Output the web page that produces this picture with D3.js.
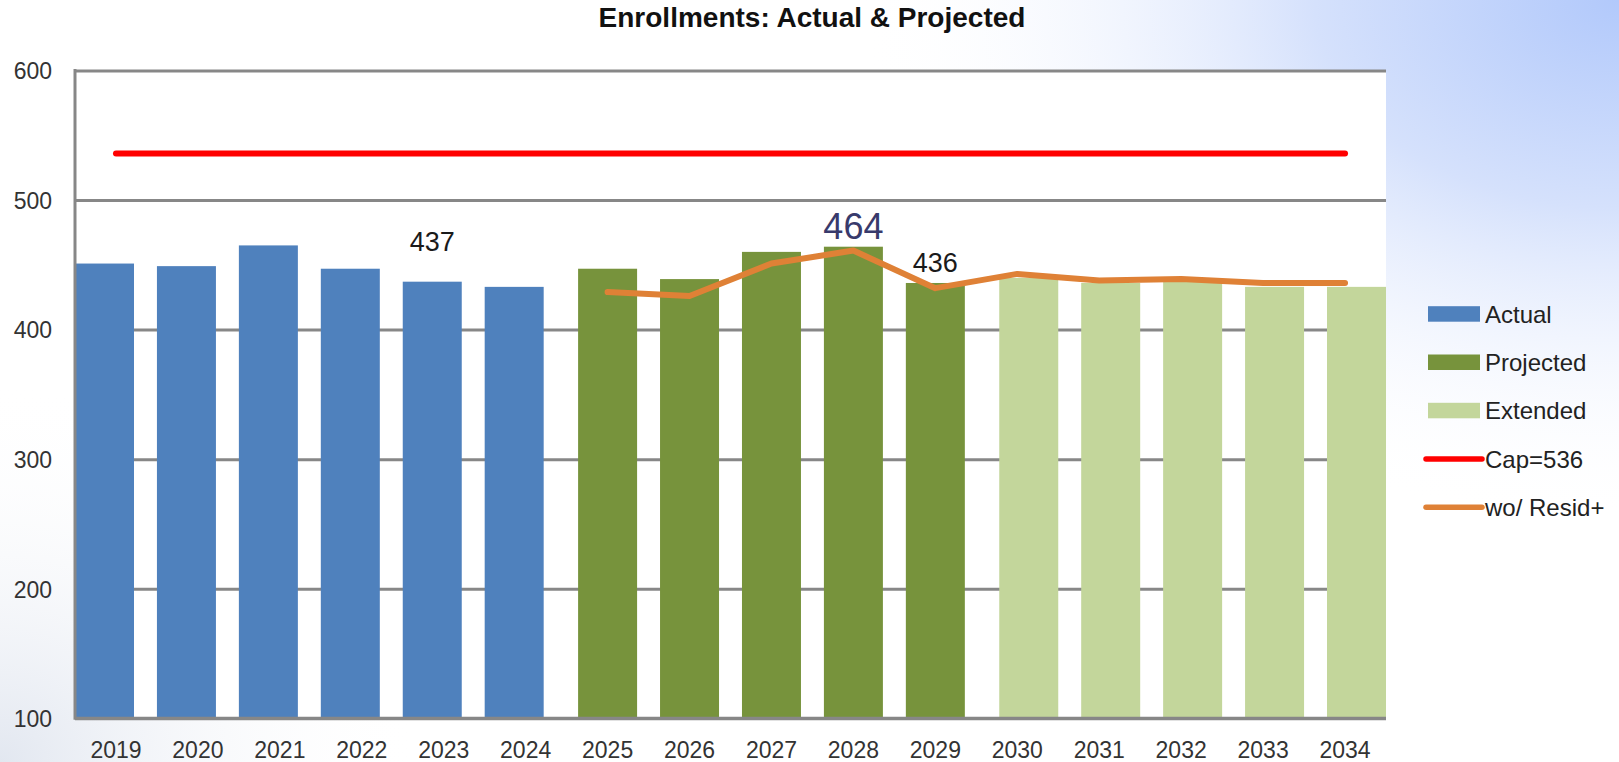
<!DOCTYPE html>
<html lang="en">
<head>
<meta charset="utf-8">
<title>Enrollments: Actual &amp; Projected</title>
<script src="https://cdn.jsdelivr.net/npm/d3@7/dist/d3.min.js"></script>
<style>
  html, body { margin: 0; padding: 0; background: #fff; }
  svg { display: block; }
  text { font-family: "Liberation Sans", Arial, sans-serif; }
</style>
</head>
<body>
<div id="chart"></div>
<script>
// data
var years = ["2019","2020","2021","2022","2023","2024","2025","2026","2027","2028","2029","2030","2031","2032","2033","2034"];
var actual    = [451, 449, 465, 447, 437, 433];          // 2019-2024
var projected = [447, 439, 460, 464, 436];               // 2025-2029
var extended  = [440, 436, 437, 433, 433];               // 2030-2034
var capValue  = 536;
var woResid   = [429, 426, 451, 461, 432, 443, 438, 439, 436, 436]; // 2025-2034
var yTicks    = [100, 200, 300, 400, 500, 600];
var labelled  = [{year: "2023", value: 437, big: false},
                 {year: "2028", value: 464, big: true},
                 {year: "2029", value: 436, big: false}];

var width = 1619, height = 762;
var plot = {left: 75, right: 1386, top: 70.5, bottom: 718.3};

var svg = d3.select("#chart").append("svg")
    .attr("width", width)
    .attr("height", height);

// background: white with a blue glow top right, faint grey bottom left
var defs = svg.append("defs");
var gTR = defs.append("radialGradient")
    .attr("id", "glowTR")
    .attr("gradientUnits", "userSpaceOnUse")
    .attr("cx", 0).attr("cy", 0).attr("r", 1)
    .attr("gradientTransform", "translate(1619,0) scale(760,520)");
gTR.append("stop").attr("offset", 0).attr("stop-color", "#b2c9fb");
gTR.append("stop").attr("offset", 0.4).attr("stop-color", "#d5e1fc");
gTR.append("stop").attr("offset", 1).attr("stop-color", "#ffffff").attr("stop-opacity", 0);

var gBL = defs.append("radialGradient")
    .attr("id", "glowBL")
    .attr("gradientUnits", "userSpaceOnUse")
    .attr("cx", 0).attr("cy", 0).attr("r", 1)
    .attr("gradientTransform", "translate(0,762) scale(420,380)");
gBL.append("stop").attr("offset", 0).attr("stop-color", "#e2e7f0");
gBL.append("stop").attr("offset", 1).attr("stop-color", "#ffffff").attr("stop-opacity", 0);

svg.append("rect").attr("width", width).attr("height", height).attr("fill", "#fff");
svg.append("rect").attr("width", width).attr("height", height).attr("fill", "url(#glowBL)");
svg.append("rect").attr("width", width).attr("height", height).attr("fill", "url(#glowTR)");

// plot area
svg.append("rect")
    .attr("x", plot.left).attr("y", plot.top)
    .attr("width", plot.right - plot.left)
    .attr("height", plot.bottom - plot.top)
    .attr("fill", "#fff");

var x = d3.scaleBand().domain(years).range([plot.left, plot.right]).padding(0);
var y = d3.scaleLinear().domain([100, 600]).range([plot.bottom, plot.top]);

var barW = x.step() * 0.72;
var shift = x.step() * 0.14;   // clustered series offset

// gridlines + y axis labels
var yAxis = svg.append("g")
    .attr("transform", "translate(" + plot.left + ",0)")
    .call(d3.axisLeft(y).tickValues(yTicks).tickSize(-(plot.right - plot.left)).tickPadding(23));
yAxis.select(".domain").remove();
yAxis.selectAll(".tick line").attr("stroke", "#878787").attr("stroke-width", 3);
yAxis.selectAll(".tick text")
    .attr("fill", "#333")
    .style("font-size", "23px")
    .attr("dy", "0.36em");

// bars
var series = [
  {name: "Actual",    color: "#4f81bd", values: actual,    start: 0,  off: -shift},
  {name: "Projected", color: "#77933c", values: projected, start: 6,  off: 0},
  {name: "Extended",  color: "#c3d69b", values: extended,  start: 11, off: shift}
];

series.forEach(function(s) {
  svg.append("g").selectAll("rect")
    .data(s.values)
    .join("rect")
      .attr("x", function(d, i) { return x(years[s.start + i]) + x.bandwidth() / 2 + s.off - barW / 2; })
      .attr("y", function(d) { return y(d); })
      .attr("width", barW)
      .attr("height", function(d) { return y(100) - y(d); })
      .attr("fill", s.color);
});

// axis lines (left and bottom)
svg.append("line")
    .attr("x1", plot.left).attr("x2", plot.left)
    .attr("y1", y(600) - 1.5).attr("y2", y(100) + 1.5)
    .attr("stroke", "#878787").attr("stroke-width", 3);
svg.append("line")
    .attr("x1", plot.left).attr("x2", plot.right)
    .attr("y1", y(100)).attr("y2", y(100))
    .attr("stroke", "#878787").attr("stroke-width", 3);

// x axis labels
var xAxis = svg.append("g")
    .attr("transform", "translate(0," + plot.bottom + ")")
    .call(d3.axisBottom(x).tickSize(0).tickPadding(0));
xAxis.select(".domain").remove();
xAxis.selectAll(".tick text")
    .attr("y", 40)
    .attr("dy", 0)
    .attr("fill", "#333")
    .style("font-size", "23px");

// cap line
var cx = function(yr) { return x(yr) + x.bandwidth() / 2; };
svg.append("line")
    .attr("x1", cx(years[0])).attr("x2", cx(years[years.length - 1]))
    .attr("y1", y(capValue)).attr("y2", y(capValue))
    .attr("stroke", "#ff0000").attr("stroke-width", 6)
    .attr("stroke-linecap", "round");

// wo/ Resid+ line
var line = d3.line()
    .x(function(d, i) { return cx(years[6 + i]); })
    .y(function(d) { return y(d); });
svg.append("path")
    .attr("d", line(woResid))
    .attr("fill", "none")
    .attr("stroke", "#df8136")
    .attr("stroke-width", 6)
    .attr("stroke-linejoin", "round")
    .attr("stroke-linecap", "round");

// data labels
labelled.forEach(function(l) {
  var i = years.indexOf(l.year);
  var s = i < 6 ? series[0] : (i < 11 ? series[1] : series[2]);
  svg.append("text")
    .attr("x", cx(l.year) + s.off)
    .attr("y", l.big ? y(l.value) - 8 : (l.year === "2023" ? y(l.value) - 31 : y(l.value) - 11))
    .attr("text-anchor", "middle")
    .attr("fill", l.big ? "#383a6c" : "#1a1a1a")
    .style("font-size", l.big ? "36px" : "27px")
    .text(l.value);
});

// title
svg.append("text")
    .attr("x", 812)
    .attr("y", 27)
    .attr("text-anchor", "middle")
    .attr("fill", "#111")
    .style("font-size", "28px")
    .style("font-weight", "bold")
    .text("Enrollments: Actual & Projected");

// legend
var legendItems = [
  {name: "Actual",      color: "#4f81bd", type: "box"},
  {name: "Projected",   color: "#77933c", type: "box"},
  {name: "Extended",    color: "#c3d69b", type: "box"},
  {name: "Cap=" + capValue, color: "#ff0000", type: "line"},
  {name: "wo/ Resid+",  color: "#df8136", type: "line"}
];
var legend = svg.append("g").attr("transform", "translate(1428,314)");
var rows = legend.selectAll("g").data(legendItems).join("g")
    .attr("transform", function(d, i) { return "translate(0," + (i * 48.3) + ")"; });
rows.filter(function(d) { return d.type === "box"; }).append("rect")
    .attr("x", 0).attr("y", -7.8).attr("width", 52).attr("height", 15.5)
    .attr("fill", function(d) { return d.color; });
rows.filter(function(d) { return d.type === "line"; }).append("line")
    .attr("x1", -2).attr("x2", 54).attr("y1", 0).attr("y2", 0)
    .attr("stroke", function(d) { return d.color; })
    .attr("stroke-width", 5.5)
    .attr("stroke-linecap", "round");
rows.append("text")
    .attr("x", 57).attr("y", 0).attr("dy", "0.36em")
    .attr("fill", "#222")
    .style("font-size", "24px")
    .text(function(d) { return d.name; });
</script>
</body>
</html>
